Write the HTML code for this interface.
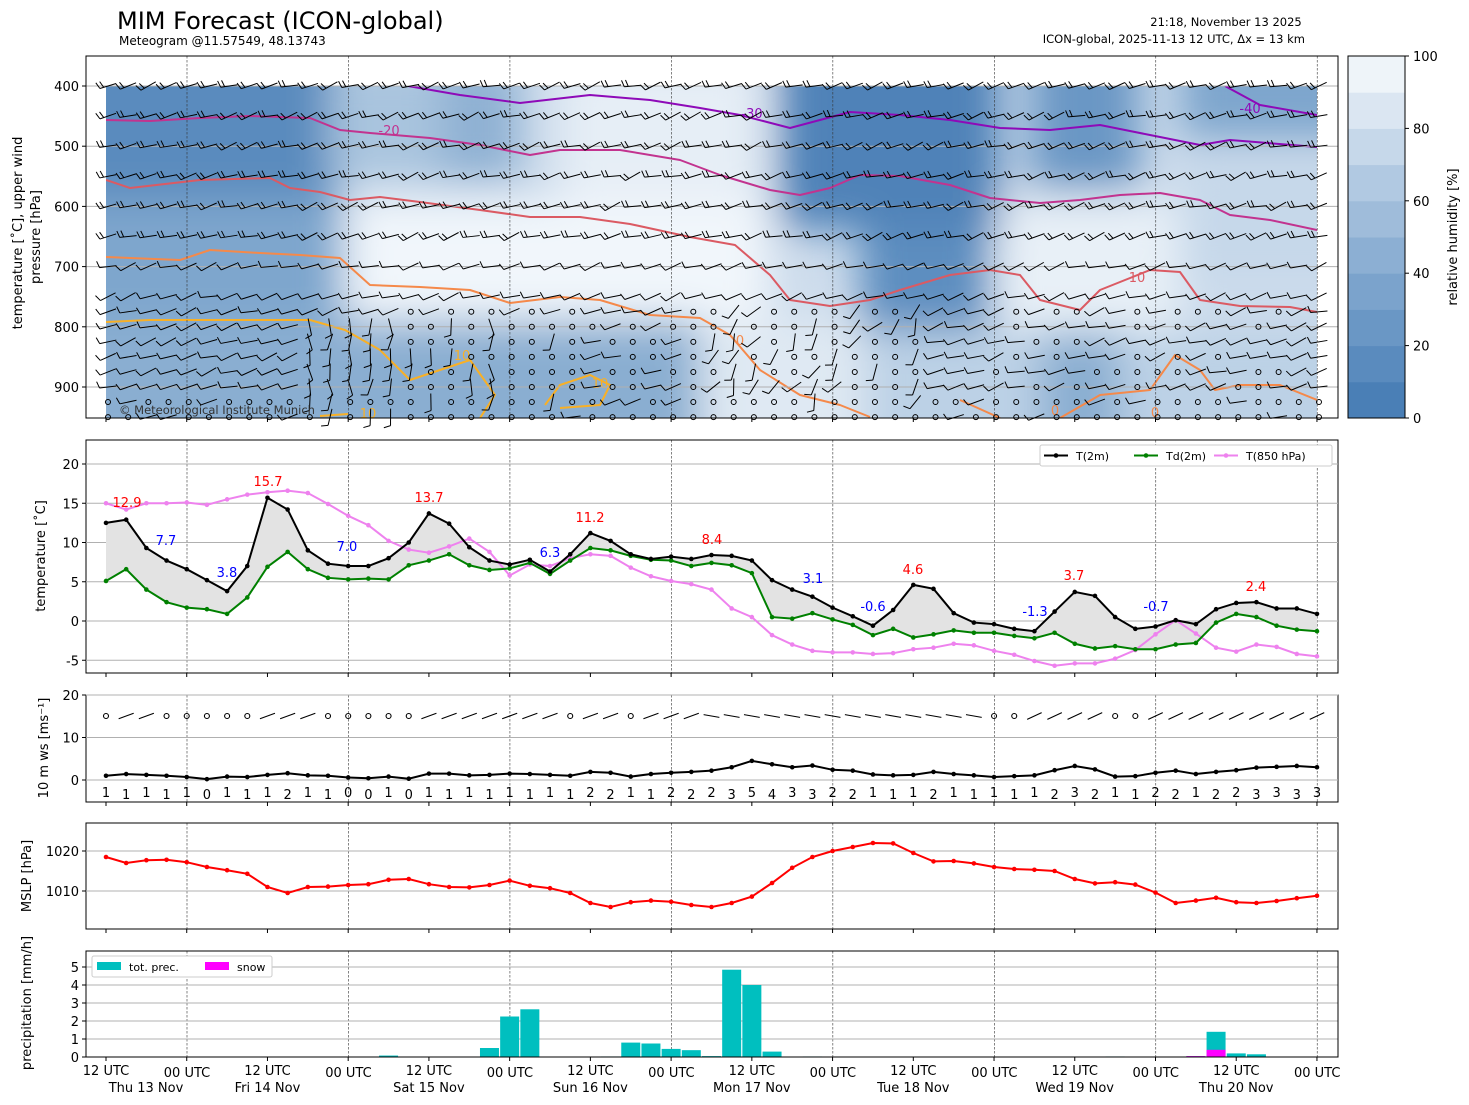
<!DOCTYPE html>
<html><head><meta charset="utf-8"><style>
html,body{margin:0;padding:0;background:#fff;}
svg{display:block;font-family:"DejaVu Sans","Liberation Sans",sans-serif;}
</style></head><body>
<svg id="s" width="1469" height="1105" xmlns="http://www.w3.org/2000/svg">
<defs>
<filter id="bl" x="-30%" y="-30%" width="160%" height="160%"><feGaussianBlur stdDeviation="20"/></filter>
<clipPath id="cp0"><rect x="106" y="86" width="1211" height="332"/></clipPath>
</defs>
<text x="117" y="29" font-size="24">MIM Forecast (ICON-global)</text>
<text x="119" y="45" font-size="12">Meteogram @11.57549, 48.13743</text>
<text x="1226" y="26" font-size="11.5" text-anchor="middle">21:18, November 13 2025</text>
<text x="1305" y="43" font-size="11.5" text-anchor="end">ICON-global, 2025-11-13 12 UTC, Δx = 13 km</text>
<g id="g"></g>
</svg>
<script>
const NS="http://www.w3.org/2000/svg",G=document.getElementById('g');
function el(t,a,txt,p){const e=document.createElementNS(NS,t);for(const k in a)e.setAttribute(k,a[k]);if(txt!==undefined)e.textContent=txt;(p||G).appendChild(e);return e;}
const X=i=>106+i*20.183;
const L=86,R=1338;
const P=[[56,418],[440,673],[695,802],[823,929],[951,1057]];
const tg=el('g',{'clip-path':'url(#cp0)'});
el('rect',{x:106,y:86,width:1211,height:332,fill:'#cddcec'},undefined,tg);
const bg=el('g',{filter:'url(#bl)'},undefined,tg);
[[60,40,280,160,'#5a8bbe'],[60,200,280,130,'#7ea6cd'],[440,60,80,120,'#8fb1d3'],[330,60,110,120,'#a9c4de'],
[560,60,200,140,'#e6eef6'],[350,200,420,120,'#f1f6fb'],[60,320,640,140,'#8aaed1'],[700,320,160,140,'#dfe9f3'],
[780,40,220,190,'#4f82b8'],[860,230,130,100,'#5d8ec0'],[1030,40,110,150,'#6a97c5'],[1180,40,180,100,'#7ea6cd'],
[1000,200,180,130,'#e8f0f7'],[1180,160,180,120,'#c6d8ea'],[870,330,490,130,'#bcd1e6'],[1040,330,80,130,'#8aaed1']].forEach(r=>{
el('rect',{x:r[0],y:r[1],width:r[2],height:r[3],fill:r[4]},undefined,bg);});
for(let p=400;p<=900;p+=100){const y=86+(p-400)*0.602;el('line',{x1:L,x2:R,y1:y,y2:y,stroke:'#b0b0b0','stroke-width':1});
el('text',{x:79,y:y+5,'font-size':13,'text-anchor':'end'},p);el('line',{x1:L-4,x2:L,y1:y,y2:y,stroke:'#000'});}
function pl(pts,c,w,par){el('polyline',{points:pts.join(' '),fill:'none',stroke:c,'stroke-width':w||2,'stroke-linejoin':'round'},undefined,par||tg);}
pl([[408,86],[460,95],[520,103],[590,95],[650,100],[700,108],[740,115],[790,128],[850,112],[900,115],[950,120],[1000,128],[1050,130],[1100,125],[1150,135],[1200,145],[1230,140],[1317,147]],'#8e0ab8');
pl([[1225,86],[1260,105],[1317,115]],'#8e0ab8');
pl([[106,120],[150,121],[200,118],[250,116],[310,118],[340,130],[370,133],[430,138],[480,145],[530,155],[560,150],[620,150],[680,160],[720,175],[770,190],[800,195],[830,188],[860,175],[900,176],[950,185],[990,198],[1040,203],[1080,200],[1120,195],[1160,193],[1200,200],[1230,215],[1270,220],[1317,230]],'#c2338f');
pl([[106,180],[130,188],[200,180],[270,178],[290,188],[320,192],[350,200],[380,197],[420,202],[480,210],[530,217],[580,217],[630,224],[690,237],[735,245],[770,275],[790,300],[830,306],[870,300],[900,290],[950,275],[990,270],[1020,275],[1040,300],[1080,310],[1100,290],[1150,270],[1180,272],[1200,300],[1240,306],[1290,307],[1317,312]],'#db5a63');
pl([[106,257],[180,260],[210,250],[260,253],[300,255],[340,258],[370,285],[420,287],[470,290],[510,303],[560,297],[600,300],[650,315],[700,318],[730,335],[760,370],[800,395],[840,405],[870,417]],'#f5894a');
pl([[1060,418],[1100,395],[1150,390],[1175,355],[1200,370],[1215,390],[1240,385],[1280,385],[1317,400]],'#f5894a');
pl([[960,400],[1000,418]],'#f5894a');
pl([[106,322],[150,320],[250,320],[310,320],[345,330],[380,350],[410,380],[440,370],[470,360],[495,395],[480,418]],'#f8b026');
pl([[545,405],[560,385],[590,375],[610,385],[600,405],[560,408]],'#f8b026');
pl([[320,416],[348,414]],'#f8b026');
[[389,135,'-20','#c2338f'],[752,118,'-30','#8e0ab8'],[1250,113,'-40','#8e0ab8'],[1137,282,'10','#db5a63'],[740,345,'0','#f5894a'],[462,360,'10','#f8b026'],[600,388,'10','#f8b026'],[1055,415,'0','#f5894a'],[1155,417,'0','#f5894a'],[368,418,'10','#f8b026']].forEach(t=>el('text',{x:t[0],y:t[1],'font-size':13,fill:t[3],'text-anchor':'middle'},t[2],tg));
const rows=[400,450,500,550,600,650,700,750,775,800,825,850,875,900,925,950];
let seed=7;const rnd=()=>{seed=(seed*9301+49297)%233280;return seed/233280;};
const bgp=el('g',{stroke:'#000','stroke-width':1,fill:'none'});
for(let i=0;i<61;i++){const x=X(i)-6;rows.forEach(p=>{const y=86+(p-400)*0.602;
 const calm=(p>=775&&((i>=15&&i<=40&&rnd()<0.55)||(i>=44&&i<=58&&rnd()<0.4)))||(p>=925&&rnd()<0.6);
 if(calm){el('circle',{cx:x+8,cy:y,r:2.5},undefined,bgp);return;}
 let ang;if(p>=800&&i>=10&&i<=22)ang=-70-rnd()*40;else if(p>=775&&i>=30&&i<=40)ang=-30-rnd()*60;else ang=-5-rnd()*25;
 const a=ang*Math.PI/180,len=17;const x1=x+8+Math.cos(a)*len*0.5,y1=y+Math.sin(a)*len*0.5,x0=x+8-Math.cos(a)*len*0.5,y0=y-Math.sin(a)*len*0.5;
 el('line',{x1:x1,y1:y1,x2:x0,y2:y0},undefined,bgp);
 const nf=p<=650?2:1;for(let k=0;k<nf;k++){const bx=x0+Math.cos(a)*k*4,by=y0+Math.sin(a)*k*4;const b=a-Math.PI*0.6;
 el('line',{x1:bx,y1:by,x2:bx+Math.cos(b)*7,y2:by+Math.sin(b)*7},undefined,bgp);}
});}
el('text',{x:119,y:414,'font-size':11.5,fill:'#333'},'© Meteorological Institute Munich');
const cbc=['#4a7fb6','#5a8bbe','#6a97c5','#7ba3cc','#8cafd3','#9fbcda','#b1c9e2','#c6d8ea','#dbe6f2','#eef4f9'];
for(let k=0;k<10;k++){const y0=418-(k+1)*36.2;el('rect',{x:1348,y:y0,width:57,height:36.7,fill:cbc[k]});}
el('rect',{x:1348,y:56,width:57,height:362,fill:'none',stroke:'#000'});
for(let v=0;v<=100;v+=20){const y=418-v*3.62;el('line',{x1:1405,x2:1409,y1:y,y2:y,stroke:'#000'});el('text',{x:1413,y:y+5,'font-size':13},v);}
el('text',{x:1457,y:237,'font-size':13,'text-anchor':'middle',transform:'rotate(-90 1457 237)'},'relative humidity [%]');
P.forEach((pp,j)=>{for(let d=0;d<8;d++){const x=187+d*161.46;el('line',{x1:x,x2:x,y1:pp[0],y2:pp[1],stroke:'#333','stroke-width':0.6,'stroke-dasharray':'2.5,1.5'});}
 for(let h=0;h<16;h++){const x=106+h*80.73;el('line',{x1:x,x2:x,y1:pp[1],y2:pp[1]+4,stroke:'#000'});}
 el('rect',{x:L,y:pp[0],width:R-L,height:pp[1]-pp[0],fill:'none',stroke:'#000','stroke-width':1});});
function yl(x,y,t){el('text',{x:x,y:y,'font-size':13,'text-anchor':'middle',transform:`rotate(-90 ${x} ${y})`},t);}
yl(22,233,'temperature [˚C], upper wind');yl(40,237,'pressure [hPa]');yl(45,556,'temperature [˚C]');
yl(48,748,'10 m ws [ms⁻¹]');yl(31,876,'MSLP [hPa]');yl(31,1003,'precipitation [mm/h]');
const T=[12.5,12.9,9.3,7.7,6.6,5.2,3.8,7.0,15.7,14.2,9.0,7.3,7.0,7.0,8.0,10.0,13.7,12.4,9.4,7.7,7.2,7.8,6.3,8.5,11.2,10.2,8.5,7.9,8.2,7.9,8.4,8.3,7.7,5.2,4.0,3.1,1.7,0.6,-0.6,1.4,4.6,4.1,1.0,-0.2,-0.4,-1.0,-1.3,1.2,3.7,3.2,0.5,-1.0,-0.7,0.1,-0.4,1.5,2.3,2.4,1.6,1.6,0.9];
const Td=[5.1,6.6,4.0,2.4,1.7,1.5,0.9,3.0,6.9,8.8,6.6,5.5,5.3,5.4,5.3,7.1,7.7,8.5,7.1,6.5,6.7,7.4,6.0,7.7,9.3,9.0,8.3,7.8,7.7,7.0,7.4,7.1,6.1,0.5,0.3,1.0,0.2,-0.5,-1.8,-1.0,-2.1,-1.7,-1.2,-1.5,-1.5,-1.9,-2.2,-1.5,-2.9,-3.5,-3.2,-3.6,-3.6,-3.0,-2.8,-0.2,0.9,0.5,-0.6,-1.1,-1.3];
const T8=[15.0,14.2,15.0,15.0,15.1,14.8,15.5,16.1,16.4,16.6,16.3,14.9,13.4,12.2,10.2,9.1,8.7,9.5,10.5,8.8,5.8,7.2,7.0,8.0,8.5,8.3,6.8,5.7,5.1,4.7,4.0,1.6,0.5,-1.8,-3.0,-3.8,-4.0,-4.0,-4.2,-4.1,-3.6,-3.4,-2.9,-3.1,-3.8,-4.3,-5.1,-5.7,-5.4,-5.4,-4.8,-3.7,-1.7,0.1,-1.6,-3.4,-3.9,-3.0,-3.3,-4.2,-4.5];
const yT=v=>621-7.85*v;
for(let v=-5;v<=20;v+=5){const y=yT(v);el('line',{x1:L,x2:R,y1:y,y2:y,stroke:'#b0b0b0'});el('line',{x1:L-4,x2:L,y1:y,y2:y,stroke:'#000'});el('text',{x:79,y:y+5,'font-size':13,'text-anchor':'end'},v);}
let poly=T.map((v,i)=>X(i)+','+yT(v)).concat(Td.map((v,i)=>X(i)+','+yT(v)).reverse());
el('polygon',{points:poly.join(' '),fill:'#e3e3e3',stroke:'none'});
function series(arr,fy,c,r){el('polyline',{points:arr.map((v,i)=>X(i)+','+fy(v)).join(' '),fill:'none',stroke:c,'stroke-width':2});arr.forEach((v,i)=>el('circle',{cx:X(i),cy:fy(v),r:r||2.3,fill:c}));}
series(T8,yT,'#ee82ee');series(Td,yT,'#008000');series(T,yT,'#000');
[[127,507,'12.9','red'],[268,486,'15.7','red'],[429,502,'13.7','red'],[590,522,'11.2','red'],[712,544,'8.4','red'],[913,574,'4.6','red'],[1074,580,'3.7','red'],[1256,591,'2.4','red'],
[166,545,'7.7','blue'],[227,577,'3.8','blue'],[347,551,'7.0','blue'],[550,557,'6.3','blue'],[813,583,'3.1','blue'],[873,611,'-0.6','blue'],[1035,616,'-1.3','blue'],[1156,611,'-0.7','blue']].forEach(t=>el('text',{x:t[0],y:t[1],'font-size':13,fill:t[3],'text-anchor':'middle'},t[2]));
el('rect',{x:1040,y:445,width:292,height:21,fill:'#fff',stroke:'#ccc',rx:2});
[[1044,'#000','T(2m)'],[1134,'#008000','Td(2m)'],[1214,'#ee82ee','T(850 hPa)']].forEach(l=>{el('line',{x1:l[0],x2:l[0]+24,y1:455.5,y2:455.5,stroke:l[1],'stroke-width':2});el('circle',{cx:l[0]+12,cy:455.5,r:2.3,fill:l[1]});el('text',{x:l[0]+32,y:460,'font-size':11},l[2]);});
const W=[1,1.4,1.2,1,0.7,0.2,0.8,0.7,1.2,1.6,1.1,1.0,0.6,0.4,0.8,0.3,1.5,1.5,1.1,1.2,1.5,1.4,1.2,1.0,1.9,1.7,0.8,1.4,1.7,1.9,2.2,3.0,4.5,3.7,3.0,3.4,2.4,2.2,1.3,1.1,1.2,1.9,1.4,1.1,0.7,0.9,1.1,2.3,3.3,2.5,0.8,0.9,1.7,2.2,1.4,1.9,2.3,2.9,3.1,3.3,3.0];
const WL=[1,1,1,1,1,0,1,1,1,2,1,1,0,0,1,0,1,1,1,1,1,1,1,1,2,2,1,1,2,2,2,3,5,4,3,3,2,2,1,1,1,2,1,1,1,1,1,2,3,2,1,1,2,2,1,2,2,3,3,3,3];
const yW=v=>780-4.25*v;
[0,10,20].forEach(v=>{const y=yW(v);el('line',{x1:L,x2:R,y1:y,y2:y,stroke:'#b0b0b0'});el('line',{x1:L-4,x2:L,y1:y,y2:y,stroke:'#000'});el('text',{x:79,y:y+5,'font-size':13,'text-anchor':'end'},v);});
series(W,yW,'#000');
WL.forEach((v,i)=>el('text',{x:X(i),y:797+(i%2)*2,'font-size':13,'text-anchor':'middle'},v));
const wg=el('g',{stroke:'#000','stroke-width':1.1,fill:'none'});
W.forEach((v,i)=>{const x=X(i),y=716;if(v<1.1&&i!==1){el('circle',{cx:x,cy:y,r:2.5},undefined,wg);return;}
 const a=(i<30?-20:(i<45?10:-25))*Math.PI/180;el('line',{x1:x-8*Math.cos(a),y1:y-8*Math.sin(a),x2:x+8*Math.cos(a),y2:y+8*Math.sin(a)},undefined,wg);});
const M=[1018.5,1017,1017.7,1017.8,1017.2,1016,1015.2,1014.3,1011,1009.5,1011,1011.1,1011.5,1011.7,1012.8,1013,1011.7,1011,1010.9,1011.5,1012.6,1011.3,1010.7,1009.5,1007,1006,1007.2,1007.6,1007.3,1006.5,1006,1007,1008.6,1012,1015.8,1018.5,1020,1021,1022,1021.9,1019.5,1017.4,1017.5,1016.9,1016,1015.5,1015.3,1015,1013,1011.9,1012.2,1011.6,1009.6,1007,1007.6,1008.3,1007.2,1007,1007.5,1008.2,1008.8];
const yM=v=>891-4*(v-1010);
[1010,1020].forEach(v=>{const y=yM(v);el('line',{x1:L,x2:R,y1:y,y2:y,stroke:'#b0b0b0'});el('line',{x1:L-4,x2:L,y1:y,y2:y,stroke:'#000'});el('text',{x:79,y:y+5,'font-size':13,'text-anchor':'end'},v);});
series(M,yM,'#ff0000');
const yP=v=>1057-18*v;
for(let v=0;v<=5;v++){const y=yP(v);el('line',{x1:L,x2:R,y1:y,y2:y,stroke:'#b0b0b0'});el('line',{x1:L-4,x2:L,y1:y,y2:y,stroke:'#000'});el('text',{x:79,y:y+5,'font-size':13,'text-anchor':'end'},v);}
const PR={14:0.08,19:0.5,20:2.25,21:2.65,25:0.03,26:0.8,27:0.75,28:0.45,29:0.38,30:0.05,31:4.85,32:4.0,33:0.3,35:0.03,50:0.03,54:0.05,55:1.4,56:0.2,57:0.15};
for(const k in PR){const v=PR[k];el('rect',{x:X(+k)-9.5,y:yP(v),width:19,height:v*18,fill:'#00bfbf'});}
el('rect',{x:X(54)-9.5,y:yP(0.05),width:19,height:0.9,fill:'#ff00ff'});
el('rect',{x:X(55)-9.5,y:yP(0.4),width:19,height:7.2,fill:'#ff00ff'});
el('rect',{x:L,y:951,width:R-L,height:106,fill:'none',stroke:'#000'});
el('rect',{x:92,y:956,width:180,height:21,fill:'#fff',stroke:'#ccc',rx:2});
el('rect',{x:97,y:962,width:24,height:8,fill:'#00bfbf'});el('text',{x:129,y:971,'font-size':11},'tot. prec.');
el('rect',{x:205,y:962,width:24,height:8,fill:'#ff00ff'});el('text',{x:237,y:971,'font-size':11},'snow');
const days=['Thu 13 Nov','Fri 14 Nov','Sat 15 Nov','Sun 16 Nov','Mon 17 Nov','Tue 18 Nov','Wed 19 Nov','Thu 20 Nov'];
for(let d=0;d<8;d++){const x=106+d*161.46;el('text',{x:x,y:1075,'font-size':13,'text-anchor':'middle'},'12 UTC');
 el('text',{x:d===0?146:x,y:1092,'font-size':13,'text-anchor':'middle'},days[d]);
 el('text',{x:x+81,y:1077,'font-size':13,'text-anchor':'middle'},'00 UTC');}
</script>
</body></html>
